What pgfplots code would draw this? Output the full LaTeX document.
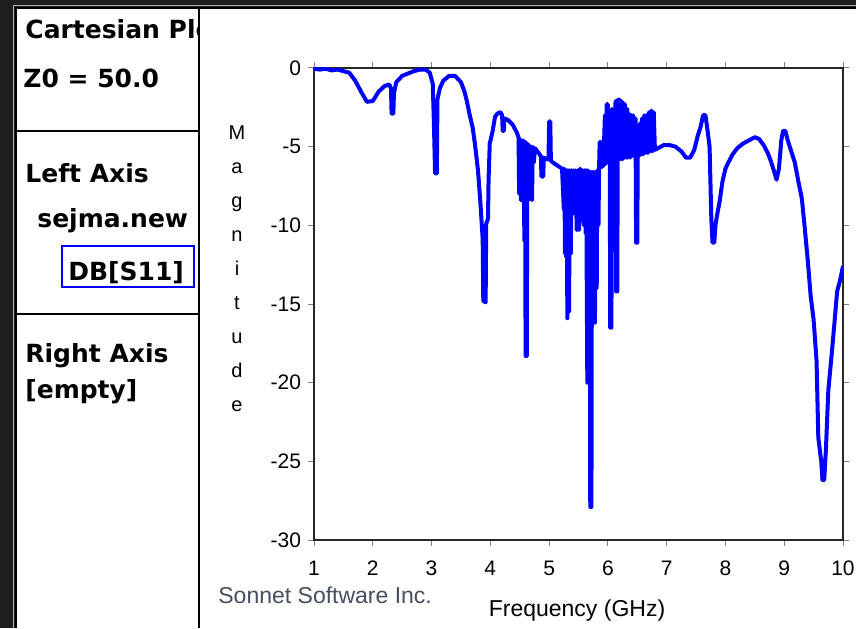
\documentclass[border=0pt]{standalone}
\usepackage{pgfplots}
\pgfplotsset{compat=1.18}
\usepackage{fontspec}
\setmainfont{Liberation Sans}
\newfontfamily\panelfont{DejaVu Sans}
\definecolor{plotblue}{RGB}{0,0,255}
\definecolor{darkbg}{RGB}{30,30,30}
\definecolor{sonnetgray}{RGB}{70,78,95}
\pgfplotstableread{
x y
1.00 -0.05
1.10 -0.10
1.20 -0.05
1.30 -0.15
1.40 -0.10
1.50 -0.20
1.60 -0.30
1.70 -0.80
1.80 -1.50
1.90 -2.15
2.00 -2.10
2.10 -1.50
2.20 -1.15
2.28 -1.05
2.31 -1.30
2.32 -2.90
2.35 -2.90
2.36 -1.60
2.40 -0.90
2.50 -0.50
2.60 -0.35
2.70 -0.20
2.80 -0.10
2.90 -0.10
2.97 -0.30
3.02 -1.00
3.04 -3.50
3.06 -6.70
3.09 -6.70
3.10 -2.00
3.14 -1.30
3.20 -0.80
3.30 -0.50
3.40 -0.50
3.50 -0.90
3.56 -1.50
3.60 -2.10
3.65 -3.00
3.70 -3.80
3.74 -4.90
3.79 -6.50
3.83 -8.50
3.87 -10.9
3.88 -14.8
3.92 -14.9
3.93 -9.9
3.96 -9.6
3.97 -7.1
3.99 -4.8
4.04 -4.0
4.08 -3.1
4.12 -2.9
4.17 -2.8
4.20 -3.0
4.21 -4.0
4.23 -4.0
4.24 -3.2
4.30 -3.3
4.38 -3.6
4.45 -4.1
4.48 -4.4
4.49 -8.0
4.50 -4.5
4.52 -8.4
4.53 -4.6
4.55 -8.2
4.56 -4.6
4.58 -11.0
4.59 -4.7
4.60 -18.3
4.62 -18.3
4.63 -4.8
4.65 -8.4
4.66 -4.9
4.68 -8.3
4.69 -5.0
4.71 -8.4
4.72 -5.0
4.74 -6.0
4.76 -5.1
4.82 -5.4
4.86 -5.6
4.87 -6.9
4.90 -6.9
4.91 -5.7
4.96 -5.8
4.99 -5.8
5.00 -3.4
5.02 -3.4
5.03 -5.9
5.10 -6.1
5.18 -6.3
5.22 -6.4
5.25 -9.0
5.26 -6.4
5.27 -11.8
5.28 -6.5
5.29 -12.0
5.30 -6.5
5.31 -15.9
5.32 -6.5
5.34 -15.5
5.35 -6.5
5.37 -11.8
5.38 -6.5
5.40 -9.3
5.41 -6.5
5.43 -9.0
5.45 -6.5
5.47 -10.3
5.49 -6.5
5.51 -10.3
5.53 -6.4
5.55 -9.5
5.57 -6.5
5.59 -10.0
5.61 -6.5
5.62 -10.5
5.63 -6.5
5.65 -20.0
5.66 -6.5
5.68 -12.0
5.69 -6.6
5.70 -27.9
5.72 -27.9
5.73 -6.6
5.75 -12.5
5.76 -6.6
5.78 -16.2
5.79 -6.6
5.81 -14.0
5.82 -6.5
5.84 -10.0
5.85 -6.4
5.86 -4.7
5.88 -4.7
5.89 -6.3
5.92 -6.2
5.95 -3.0
5.96 -6.1
5.98 -2.3
6.00 -2.3
6.01 -6.0
6.03 -3.5
6.04 -16.5
6.06 -16.5
6.07 -2.6
6.09 -6.0
6.10 -3.8
6.11 -5.9
6.13 -2.1
6.14 -14.2
6.16 -14.2
6.17 -2.0
6.19 -5.8
6.20 -2.0
6.22 -5.8
6.23 -2.1
6.25 -5.8
6.26 -2.2
6.28 -5.7
6.29 -2.3
6.31 -5.7
6.33 -2.6
6.34 -5.7
6.36 -2.9
6.38 -5.7
6.40 -3.0
6.41 -5.6
6.43 -3.0
6.45 -5.6
6.47 -3.2
6.48 -11.1
6.50 -11.1
6.51 -3.7
6.53 -5.6
6.55 -3.5
6.57 -5.5
6.58 -3.2
6.60 -5.5
6.62 -3.0
6.64 -5.4
6.66 -3.0
6.68 -5.4
6.70 -2.8
6.72 -5.3
6.74 -2.7
6.76 -5.3
6.78 -2.8
6.80 -5.2
6.85 -5.1
6.95 -4.9
7.05 -4.9
7.15 -5.0
7.25 -5.3
7.33 -5.7
7.40 -5.7
7.47 -5.2
7.53 -4.3
7.58 -3.7
7.62 -3.0
7.66 -3.0
7.70 -4.1
7.73 -5.0
7.76 -9.6
7.78 -11.1
7.81 -11.1
7.83 -10.0
7.86 -9.3
7.90 -8.5
7.95 -7.2
8.00 -6.4
8.05 -6.0
8.12 -5.5
8.20 -5.1
8.30 -4.8
8.40 -4.6
8.50 -4.4
8.57 -4.5
8.65 -4.9
8.72 -5.4
8.78 -6.0
8.83 -6.6
8.87 -7.1
8.91 -6.4
8.95 -4.6
8.98 -4.0
9.02 -4.0
9.06 -4.6
9.12 -5.3
9.18 -6.0
9.24 -7.2
9.30 -8.3
9.35 -10.2
9.40 -12.2
9.45 -14.5
9.50 -16.0
9.55 -18.6
9.58 -23.5
9.63 -25.0
9.65 -26.2
9.68 -26.2
9.71 -24.2
9.75 -20.5
9.80 -18.5
9.85 -16.4
9.90 -14.2
9.95 -13.5
10.00 -12.6
}\sdata
\begin{document}
\begin{tikzpicture}[x=1pt,y=1pt]
\path[use as bounding box] (0,0) rectangle (428,314);
\fill[darkbg] (0,0) rectangle (428,314);
\fill[white] (7.5,0) rectangle (428,310.5);
\draw[gray!60,line width=0.6pt] (6.8,0) -- (6.8,311.2) -- (428,311.2);
\draw[black,line width=1pt] (8,0) -- (8,310) -- (428,310);
\draw[black,line width=1.2pt] (99.5,0) -- (99.5,310);
\draw[black,line width=1pt] (8,248.5) -- (99.5,248.5);
\draw[black,line width=1pt] (8,157) -- (99.5,157);
\begin{scope}
\clip (8.5,0) rectangle (98.9,309.5);
\node[anchor=base west,inner sep=0pt,font=\panelfont\bfseries\fontsize{12.5}{14}\selectfont] at (12.5,294.5) {Cartesian Plot};
\end{scope}
\node[anchor=base west,inner sep=0pt,font=\panelfont\bfseries\fontsize{12.5}{14}\selectfont] at (11.5,270) {Z0 = 50.0};
\node[anchor=base west,inner sep=0pt,font=\panelfont\bfseries\fontsize{12.5}{14}\selectfont] at (12.5,223) {Left Axis};
\node[anchor=base west,inner sep=0pt,font=\panelfont\bfseries\fontsize{12.5}{14}\selectfont] at (18.5,200.5) {sejma.new};
\draw[plotblue,line width=0.8pt] (31,170.5) rectangle (97,191);
\node[anchor=base west,inner sep=0pt,font=\panelfont\bfseries\fontsize{12.5}{14}\selectfont] at (34,174) {DB[S11]};
\node[anchor=base west,inner sep=0pt,font=\panelfont\bfseries\fontsize{12.5}{14}\selectfont] at (12.5,133) {Right Axis};
\node[anchor=base west,inner sep=0pt,font=\panelfont\bfseries\fontsize{12.5}{14}\selectfont] at (12.5,115) {[empty]};
\node[align=center,font=\fontsize{10}{17}\selectfont] at (118.5,179.5) {M\\a\\g\\n\\i\\t\\u\\d\\e};
\node[anchor=base west,inner sep=0pt,text=sonnetgray,font=\fontsize{11.5}{13}\selectfont] at (109,12.5) {Sonnet Software Inc.};
\node[anchor=base,inner sep=0pt,font=\fontsize{11.5}{13}\selectfont] at (288.5,6) {Frequency (GHz)};
\begin{axis}[
  at={(157pt,44pt)}, anchor=south west,
  scale only axis, width=264.5pt, height=236pt,
  xmin=1, xmax=10, ymin=-30, ymax=0,
  xtick={1,2,...,10},
  ytick={-30,-25,-20,-15,-10,-5,0},
  yticklabels={-30,-25,-20,-15,-10,-5,0},
  tick align=outside, major tick length=3pt,
  tick style={gray,line width=0.5pt},
  axis line style={black!85,line width=1pt},
  ticklabel style={font=\fontsize{10.5}{12}\selectfont},
  xticklabel style={yshift=-4pt},
  /pgf/number format/assume math mode=true,
]
\addplot[plotblue, line width=2pt, line join=round, no marks] table[x=x,y=y] {\sdata};
\end{axis}
\end{tikzpicture}
\end{document}
